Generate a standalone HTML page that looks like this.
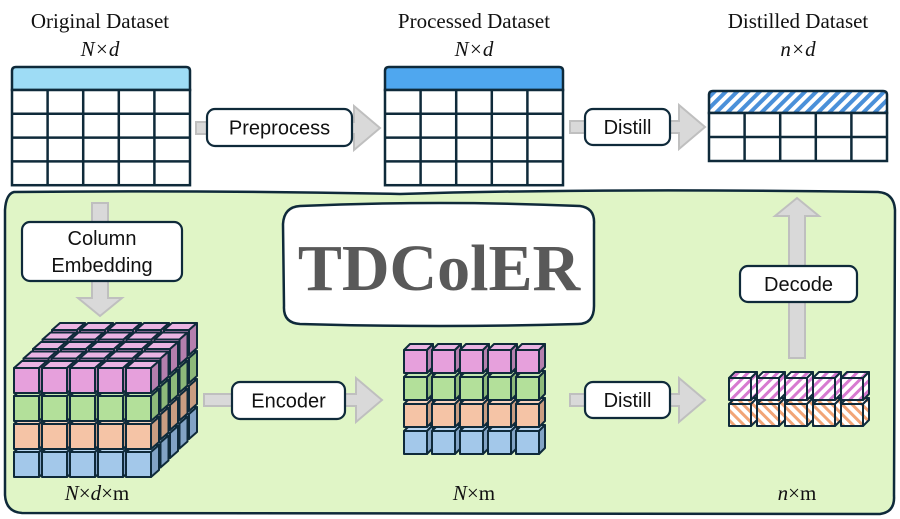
<!DOCTYPE html>
<html><head><meta charset="utf-8"><style>html,body{margin:0;padding:0;background:#fff}svg{display:block}</style></head>
<body>
<svg id="s" width="900" height="519" viewBox="0 0 900 519" xmlns="http://www.w3.org/2000/svg">
<defs>
<pattern id="hb" width="8" height="8" patternUnits="userSpaceOnUse" patternTransform="rotate(45)"><rect width="8" height="8" fill="#fff"/><rect width="4" height="8" fill="#4a90d9"/></pattern>
<pattern id="hp" width="7" height="7" patternUnits="userSpaceOnUse" patternTransform="rotate(45)"><rect width="7" height="7" fill="#fff"/><rect width="3" height="7" fill="#d77ad0"/></pattern>
<pattern id="ho" width="7" height="7" patternUnits="userSpaceOnUse" patternTransform="rotate(-45)"><rect width="7" height="7" fill="#fff"/><rect width="3" height="7" fill="#f2a577"/></pattern>
</defs>
<g font-family="Liberation Serif, serif" font-size="21" fill="#111" text-anchor="middle">
<text x="100" y="28">Original Dataset</text>
<text x="100" y="56" font-style="italic">N×d</text>
<text x="474" y="28">Processed Dataset</text>
<text x="474" y="56" font-style="italic">N×d</text>
<text x="798" y="28">Distilled Dataset</text>
<text x="798" y="56" font-style="italic">n×d</text>
</g>
<path d="M14 192 Q6 194 5 210 L5 495 Q6 512 22 513 L880 514 Q895 512 894 496 L895 210 Q894 193 878 192 Q600 188 400 194 Q200 190 14 192 Z" fill="#e0f5c6" stroke="#0f2a3a" stroke-width="2.5"/>
<g id="tables"></g>
<g id="arrows"></g>
<path d="M300 206 Q440 200 580 206 Q595 208 594 224 L594 306 Q594 324 578 324 Q440 328 300 324 Q283 323 284 306 L283 224 Q284 207 300 206 Z" fill="#fff" stroke="#0f2a3a" stroke-width="2.5"/>
<text x="439" y="290" font-family="Liberation Serif, serif" font-weight="bold" font-size="66" fill="#595959" text-anchor="middle">TDColER</text>
<g id="cubes"></g>
<g id="labels" font-family="Liberation Sans, sans-serif" font-size="20" fill="#111" text-anchor="middle"></g>
<g font-family="Liberation Serif, serif" font-size="21" fill="#111" text-anchor="middle">
<text x="97" y="500"><tspan font-style="italic">N</tspan>×<tspan font-style="italic">d</tspan>×m</text>
<text x="474" y="500"><tspan font-style="italic">N</tspan>×m</text>
<text x="797" y="500"><tspan font-style="italic">n</tspan>×m</text>
</g>
</svg>
<script>
var NS="http://www.w3.org/2000/svg";
function el(p,t,a){var e=document.createElementNS(NS,t);for(var k in a)e.setAttribute(k,a[k]);p.appendChild(e);return e;}
var T=document.getElementById('tables');
function table(x,y,w,hh,rows,rh,fill){
  var h=hh+rows*rh;
  el(T,'path',{d:'M'+x+' '+(y+hh)+' L'+x+' '+(y+4)+' Q'+x+' '+y+' '+(x+4)+' '+y+' L'+(x+w-4)+' '+y+' Q'+(x+w)+' '+y+' '+(x+w)+' '+(y+4)+' L'+(x+w)+' '+(y+hh)+' Z',fill:fill,stroke:'#0f2a3a','stroke-width':2.5});
  el(T,'rect',{x:x,y:y+hh,width:w,height:rows*rh,fill:'#fff',stroke:'#0f2a3a','stroke-width':2.5});
  for(var i=1;i<rows;i++)el(T,'line',{x1:x,x2:x+w,y1:y+hh+i*rh,y2:y+hh+i*rh,stroke:'#0f2a3a','stroke-width':2.5});
  for(var j=1;j<5;j++)el(T,'line',{x1:x+j*w/5,x2:x+j*w/5,y1:y+hh,y2:y+h,stroke:'#0f2a3a','stroke-width':2.5});
}
table(12,67,178,23,4,23.8,'#9edcf5');
table(385,67,178,23,4,23.8,'#4fa7ef');
table(709,91,178,22,2,24,'url(#hb)');
var A=document.getElementById('arrows');
function harrow(x1,x2,y){ // right
  el(A,'path',{d:'M'+x1+' '+(y-6)+' L'+(x2-26)+' '+(y-6)+' L'+(x2-26)+' '+(y-22)+' L'+x2+' '+y+' L'+(x2-26)+' '+(y+22)+' L'+(x2-26)+' '+(y+6)+' L'+x1+' '+(y+6)+' Z',fill:'#d9d9d9',stroke:'#bfbfbf','stroke-width':2});
}
function varrow(x,y1,y2){ // y1 start, y2 tip
  var d=y2>y1?1:-1;
  el(A,'path',{d:'M'+(x-8)+' '+y1+' L'+(x-8)+' '+(y2-d*18)+' L'+(x-22)+' '+(y2-d*18)+' L'+x+' '+y2+' L'+(x+22)+' '+(y2-d*18)+' L'+(x+8)+' '+(y2-d*18)+' L'+(x+8)+' '+y1+' Z',fill:'#d9d9d9',stroke:'#bfbfbf','stroke-width':2});
}
harrow(196,380,128);harrow(570,705,127);harrow(204,382,400);harrow(570,705,400);
varrow(100,203,316);varrow(797,358,198);
var L=document.getElementById('labels');
function label(x,y,w,h,lines){
  el(L,'rect',{x:x,y:y,width:w,height:h,rx:8,fill:'#fff',stroke:'#0f2a3a','stroke-width':2.2});
  var n=lines.length;
  lines.forEach(function(t,i){var e=el(L,'text',{x:x+w/2,y:y+h/2+7+(i-(n-1)/2)*27});e.textContent=t;});
}
label(207,109,145,37,['Preprocess']);
label(585,109,85,36,['Distill']);
label(22,222,160,59,['Column','Embedding']);
label(232,382,113,37,['Encoder']);
label(585,382,85,36,['Distill']);
label(740,266,117,36,['Decode']);
var C=document.getElementById('cubes');
function cube(x,y,s,ox,oy,f,side,top){
  var st={stroke:'#0f2a3a','stroke-width':2,'stroke-linejoin':'round'};
  function P(d,fill){var a={d:d,fill:fill};for(var k in st)a[k]=st[k];el(C,'path',a);}
  P('M'+x+' '+y+' l'+ox+' '+oy+' l'+s+' 0 l'+(-ox)+' '+(-oy)+' Z',top);
  P('M'+(x+s)+' '+y+' l'+ox+' '+oy+' l0 '+s+' l'+(-ox)+' '+(-oy)+' Z',side);
  P('M'+x+' '+y+' h'+s+' v'+s+' h'+(-s)+' Z',f);
}
var cols=[['#e6a0dc','#b57fae','#eab4e3'],['#b3e09a','#8db97a','#c4e8b0'],['#f5c4a6','#c99d82','#f8d3bd'],['#a3c8ea','#82a3c5','#b9d6f0']];
// big
for(var k=4;k>=0;k--)for(var l=3;l>=0;l--)for(var i=0;i<5;i++){
  var c=cols[l];cube(14+i*28+k*9.5,368+l*28-k*9.5,25,8,-7,c[0],c[1],c[2]);
}
// medium
for(var l=3;l>=0;l--)for(var i=0;i<5;i++){var c=cols[l];cube(404+i*28,350+l*27,23,6,-6,c[0],c[1],c[2]);}
// small
for(var i=0;i<5;i++){cube(729+i*28,404,22,6,-6,'url(#ho)','url(#ho)','url(#ho)');}
for(var i=0;i<5;i++){cube(729+i*28,378,22,6,-6,'url(#hp)','url(#hp)','url(#hp)');}
</script>
</body></html>
